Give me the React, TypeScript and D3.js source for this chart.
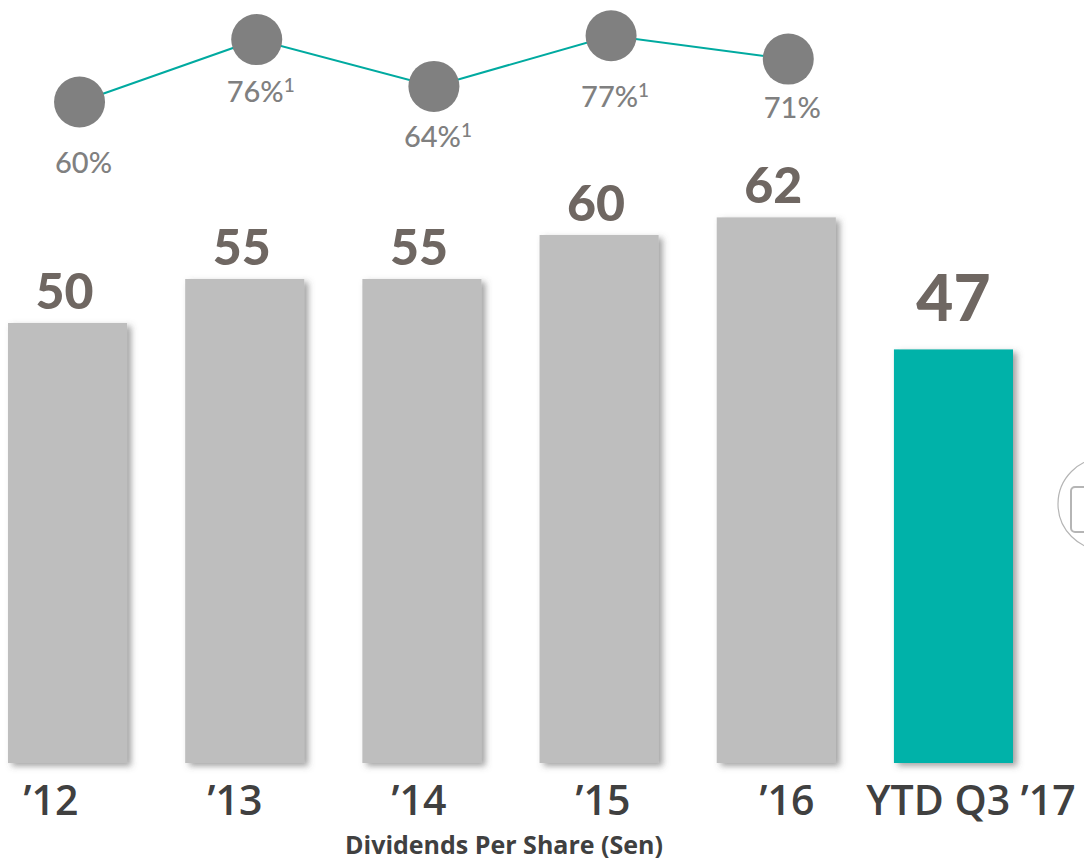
import React from "react";
import * as d3 from "d3";

const categories = ["\u201912", "\u201913", "\u201914", "\u201915", "\u201916", "YTD Q3 \u201917"];
const dividends = [50, 55, 55, 60, 62, 47];
const payoutYears = ["\u201912", "\u201913", "\u201914", "\u201915", "\u201916"];
const payoutRatio = [60, 76, 64, 77, 71];
const payoutFootnote = ["", "1", "1", "1", ""];
const title = "Dividends Per Share (Sen)";

const W = 1084;
const H = 862;
const labelDy = [71, 62, 61, 71, 59];

export default function App() {
  const x = d3.scaleBand<string>().domain(categories).range([8, 1013]).paddingInner(0.328).paddingOuter(0);
  const xl = d3.scalePoint<string>().domain(categories).range([51, 971]);
  const y = d3.scaleLinear().domain([0, 62]).range([763, 763 - 62 * 8.8]);
  const py = d3.scaleLinear().domain([60, 77]).range([102, 35.7]);
  const bw = x.bandwidth();
  const pts = payoutRatio.map((v, i) => [x(payoutYears[i])! + bw / 2 + 12, py(v)] as [number, number]);
  const line = d3.line<[number, number]>()(pts);
  const font = "Lato, 'Open Sans', sans-serif";
  const font2 = "'Open Sans', Lato, sans-serif";

  return (
    <svg width={W} height={H} style={{ position: "absolute", left: 0, top: 0, background: "#fff" }} fontFamily={font}>
      <defs>
        <filter id="sh" x="-20%" y="-20%" width="150%" height="150%">
          <feDropShadow dx="4" dy="3" stdDeviation="3" floodColor="#555" floodOpacity="0.55" />
        </filter>
      </defs>
      {dividends.map((v, i) => {
        const c = categories[i];
        const last = i === dividends.length - 1;
        return (
          <g key={c}>
            <rect x={x(c)} y={y(v)} width={bw} height={y(0) - y(v)} fill={last ? "#00b2a9" : "#bebebe"} filter="url(#sh)" />
            <text
              x={x(c)! + bw / 2 - (last ? 0 : 3)}
              y={y(v) - (last ? 28 : 14)}
              textAnchor="middle"
              fontWeight={900}
              fontSize={last ? 64 : 50}
              fill="#6f6762"
            >
              {v}
            </text>
            <text x={xl(c)} y={815} textAnchor="middle" fontSize={41} fill="#404040" fontWeight={600} fontFamily={font2}>
              {c}
            </text>
          </g>
        );
      })}
      <path d={line!} fill="none" stroke="#00aaa0" strokeWidth={2} />
      {pts.map((p, i) => (
        <g key={i}>
          <circle cx={p[0]} cy={p[1]} r={25.5} fill="#808080" />
          <text x={p[0] + 4} y={p[1] + labelDy[i]} textAnchor="middle" fontSize={29} fill="#808080" fontWeight={500}>
            {payoutRatio[i] + "%"}
            {payoutFootnote[i] ? (
              <tspan fontSize={19} dy={-10}>
                {payoutFootnote[i]}
              </tspan>
            ) : null}
          </text>
        </g>
      ))}
      <text x={504} y={854} textAnchor="middle" fontSize={25} fontWeight={700} fill="#404040" fontFamily={font2}>
        {title}
      </text>
      <circle cx={1104} cy={504} r={46} fill="none" stroke="#b5b5b5" strokeWidth={1.2} />
      <rect x={1071} y={487} width={30} height={45} rx={4} fill="none" stroke="#b5b5b5" strokeWidth={2} />
    </svg>
  );
}
